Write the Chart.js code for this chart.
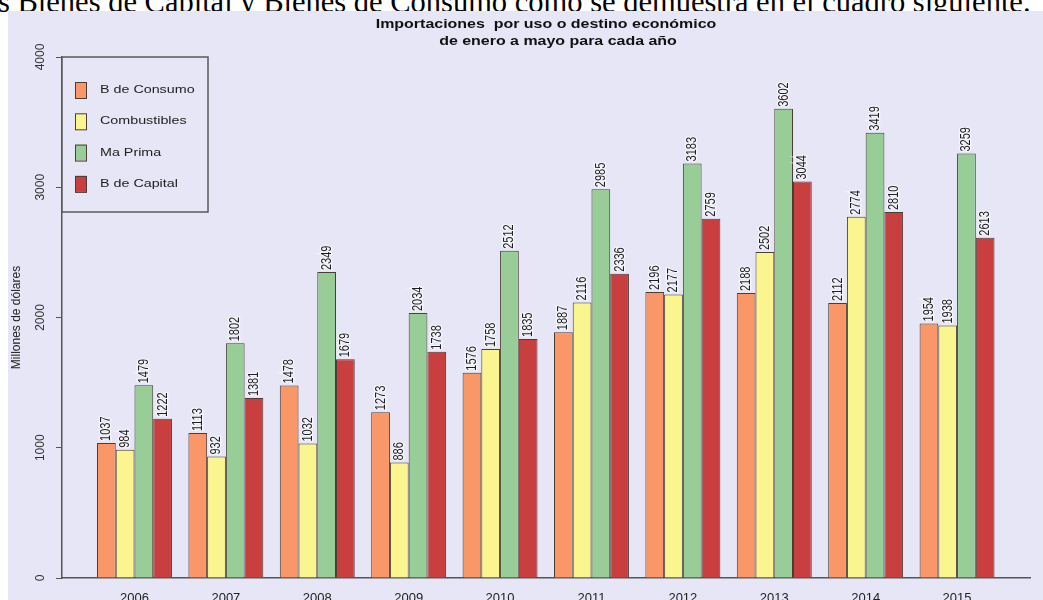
<!DOCTYPE html>
<html>
<head>
<meta charset="utf-8">
<script src="https://cdn.jsdelivr.net/npm/chart.js@4.4.1/dist/chart.umd.min.js"></script>
<style>
  body { margin: 0; width: 1043px; height: 600px; overflow: hidden; background: #fff; position: relative; }
  #texto {
    position: absolute; left: -2px; top: -13px;
    font-family: "Liberation Serif", "Times New Roman", serif;
    font-size: 30.5px; line-height: 30px; white-space: nowrap; color: #000;
  }
  #caja { position: absolute; left: 8px; top: 11px; width: 1035px; height: 620px; background: #e6e6f7; }
</style>
</head>
<body>
<div id="texto">s Bienes de Capital y Bienes de Consumo como se demuestra en el cuadro siguiente.</div>
<div id="caja"><canvas id="grafico" width="1035" height="620"></canvas></div>
<script>
// datos (millones de dolares, enero a mayo)
const anios = [2006, 2007, 2008, 2009, 2010, 2011, 2012, 2013, 2014, 2015];
const consumo = [1037, 1113, 1478, 1273, 1576, 1887, 2196, 2188, 2112, 1954];
const combustibles = [984, 932, 1032, 886, 1758, 2116, 2177, 2502, 2774, 1938];
const materiaPrima = [1479, 1802, 2349, 2034, 2512, 2985, 3183, 3602, 3419, 3259];
const capital = [1222, 1381, 1679, 1738, 1835, 2336, 2759, 3044, 2810, 2613];
const yTicks = [0, 1000, 2000, 3000, 4000];

const titulo1 = "Importaciones  por uso o destino económico";
const titulo2 = "de enero a mayo para cada año";

const ESTIRA = 1.3; // la imagen original esta estirada a lo ancho
const fuente = '"Liberation Sans", Arial, sans-serif';

function serie(label, valores, color) {
    return {
        label: label,
        data: anios.map((a, i) => ({ x: a, y: valores[i] })),
        backgroundColor: color,
        borderColor: '#4a3c36',
        borderWidth: 1,
        categoryPercentage: 0.82,
        barPercentage: 1.0
    };
}

// titulo, leyenda y etiquetas de las barras
const textosPlugin = {
    id: 'textos',
    afterDraw(chart) {
        const ctx = chart.ctx;
        const area = chart.chartArea;

        // etiquetas verticales encima de cada barra
        ctx.save();
        ctx.font = '11px ' + fuente;
        ctx.textAlign = 'left';
        ctx.textBaseline = 'middle';
        chart.data.datasets.forEach((ds, i) => {
            chart.getDatasetMeta(i).data.forEach((bar, j) => {
                ctx.save();
                ctx.translate(bar.x, bar.y - 2);
                ctx.scale(ESTIRA, 1);
                ctx.rotate(-Math.PI / 2);
                ctx.lineWidth = 2;
                ctx.strokeStyle = 'rgba(250,250,255,0.8)';
                ctx.strokeText(String(ds.data[j].y), 0, 0);
                ctx.fillStyle = '#1e1e1e';
                ctx.fillText(String(ds.data[j].y), 0, 0);
                ctx.restore();
            });
        });
        ctx.restore();

        // titulo
        const cx = (area.left + area.right) / 2;
        ctx.save();
        ctx.font = 'bold 12px ' + fuente;
        ctx.fillStyle = '#111';
        ctx.textAlign = 'center';
        ctx.textBaseline = 'middle';
        [[titulo1, 0, 14], [titulo2, 12, 31]].forEach(([t, dx, y]) => {
            ctx.save();
            ctx.translate(cx + dx, y);
            ctx.scale(1.33, 1);
            ctx.fillText(t, 0, 0);
            ctx.restore();
        });
        ctx.restore();

        // leyenda en la esquina superior izquierda
        const lx = area.left, ly = area.top;
        ctx.save();
        ctx.fillStyle = '#e6e6f7';
        ctx.fillRect(lx, ly, 146, 155);
        ctx.strokeStyle = '#5a5a5a';
        ctx.lineWidth = 1.5;
        ctx.strokeRect(lx, ly, 146, 155);
        ctx.font = '11px ' + fuente;
        ctx.textBaseline = 'middle';
        ctx.textAlign = 'left';
        chart.data.datasets.forEach((ds, i) => {
            const y = ly + 33 + i * 31.3;
            ctx.fillStyle = ds.backgroundColor;
            ctx.fillRect(lx + 13, y - 8, 11, 16);
            ctx.strokeStyle = '#4a3c36';
            ctx.lineWidth = 1;
            ctx.strokeRect(lx + 13.5, y - 7.5, 11, 16);
            ctx.save();
            ctx.translate(lx + 38, y);
            ctx.scale(ESTIRA, 1);
            ctx.fillStyle = '#222';
            ctx.fillText(ds.label, 0, 0);
            ctx.restore();
        });
        ctx.restore();
    }
};

new Chart(document.getElementById('grafico'), {
    type: 'bar',
    data: {
        datasets: [
            serie('B de Consumo', consumo, '#fa9769'),
            serie('Combustibles', combustibles, '#faf58e'),
            serie('Ma Prima', materiaPrima, '#98cd98'),
            serie('B de Capital', capital, '#c93f3f')
        ]
    },
    options: {
        responsive: false,
        animation: false,
        layout: { padding: { top: 46, right: 13, left: 0, bottom: 0 } },
        plugins: {
            legend: { display: false },
            title: { display: false },
            tooltip: { enabled: false }
        },
        scales: {
            x: {
                type: 'linear',
                offset: false,
                min: 2005.207,
                max: 2015.798,
                afterFit: s => { s.height = 53; },
                afterBuildTicks: s => { s.ticks = anios.map(v => ({ value: v })); },
                grid: { display: false, drawTicks: false },
                border: { display: true, color: '#555', width: 1.5 },
                ticks: {
                    autoSkip: false,
                    maxRotation: 0,
                    padding: 13,
                    color: '#222',
                    font: { family: fuente, size: 13 },
                    callback: v => String(v)
                }
            },
            y: {
                min: 0,
                max: 4000,
                afterFit: s => { s.width = 54; },
                afterBuildTicks: s => { s.ticks = yTicks.map(v => ({ value: v })); },
                grid: { drawOnChartArea: false, drawTicks: true, tickLength: 6, tickColor: '#555' },
                border: { display: true, color: '#555', width: 1.5 },
                ticks: {
                    minRotation: 90,
                    maxRotation: 90,
                    crossAlign: 'center',
                    padding: 2,
                    color: '#333',
                    font: { family: fuente, size: 12 },
                    callback: v => String(v)
                },
                title: {
                    display: true,
                    text: 'Millones de dólares',
                    color: '#222',
                    padding: { top: 1, bottom: 0 },
                    font: { family: fuente, size: 12 }
                }
            }
        }
    },
    plugins: [textosPlugin]
});
</script>
</body>
</html>
